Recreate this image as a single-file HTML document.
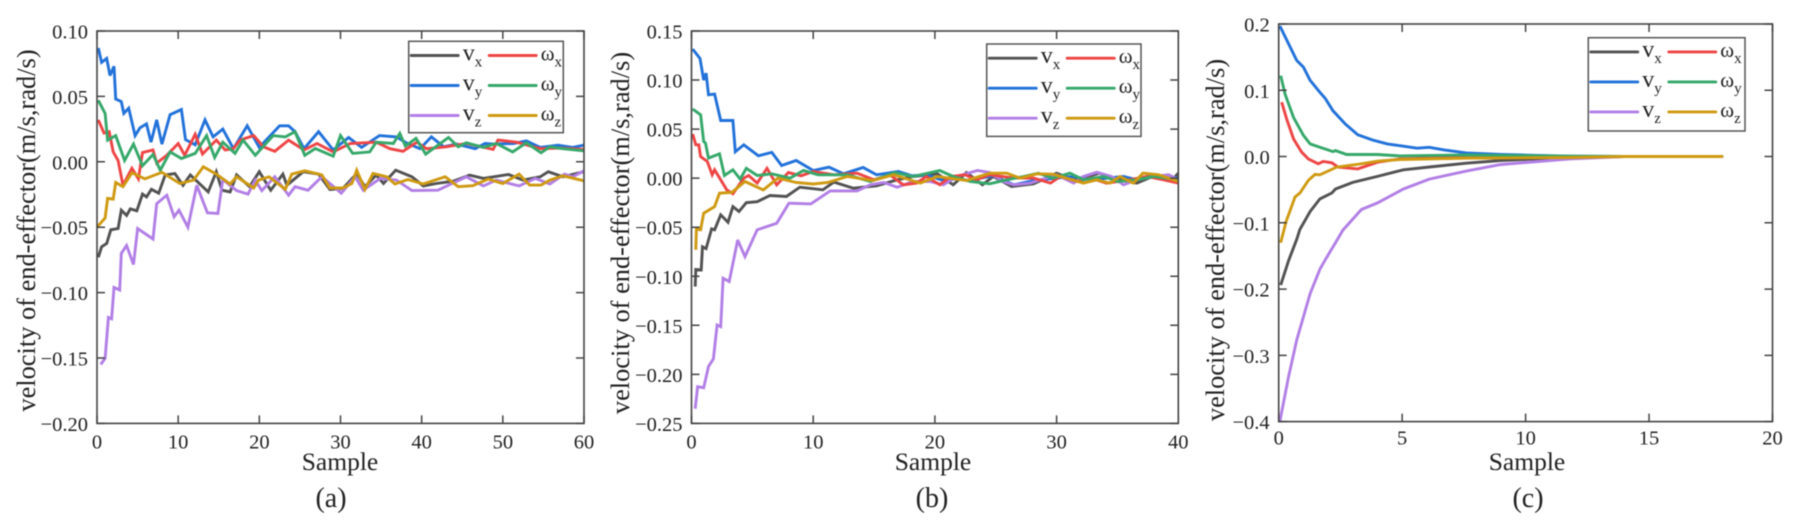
<!DOCTYPE html>
<html lang="en">
<head>
<meta charset="utf-8">
<title>Velocity of end-effector</title>
<style>
html,body{margin:0;padding:0;background:#fff;}
body{width:1796px;height:529px;overflow:hidden;}
svg{display:block;filter:blur(0.4px);font-family:"Liberation Serif","Noto Serif CJK SC",serif;}
</style>
</head>
<body>
<svg id="figure" xmlns="http://www.w3.org/2000/svg" width="1796" height="529" viewBox="0 0 1796 529"></svg>
<script>
// ---- panel (a) ----
const aXTicks=[0,10,20,30,40,50,60];
const aYTicks=[0.10,0.05,0,-0.05,-0.10,-0.15,-0.20];
const aVxSamples=[0.16,0.57,1.2,1.7,2.6,3,3.65,4.1,4.9,5.6,6.1,6.7,7.6,8.4,9.6,10.6,11.5,13.7,14.7,15.4,16.4,17.2,18.8,20,21.4,22.9,23.4,25.4,27.3,28.7,30.3,32,33,34.4,35.3,36.8,38.8,40.2,41.8,43.9,45.9,47.6,50.7,52.5,54.6,55.6,57.4,60];
const aVxValues=[-0.073,-0.065,-0.0625,-0.052,-0.051,-0.037,-0.041,-0.036,-0.0375,-0.0247,-0.0268,-0.021,-0.024,-0.01,-0.009,-0.018,-0.01,-0.023,-0.0076,-0.0217,-0.023,-0.01,-0.019,-0.0076,-0.0217,-0.0094,-0.018,-0.0076,-0.0094,-0.0212,-0.0204,-0.009,-0.019,-0.0102,-0.0166,-0.0064,-0.0115,-0.0184,-0.0166,-0.0148,-0.0102,-0.0127,-0.0097,-0.014,-0.0115,-0.0076,-0.0115,-0.0076];
const aVySamples=[0.16,0.57,1.2,1.6,2.1,2.3,3,3.3,3.9,4.7,5.3,6.1,6.65,7.35,8,9,10.4,10.9,12.1,13.3,14.3,15.5,16.8,18.5,20,22.5,23.6,24.4,25.5,27.3,29.1,31,32.6,34.8,36.9,38.1,39.8,41.2,42.7,44.3,46.6,47.8,48.8,51.3,52.9,54.6,56.8,58.6,60];
const aVyValues=[0.087,0.076,0.079,0.066,0.073,0.048,0.046,0.037,0.041,0.02,0.026,0.029,0.015,0.032,0.0135,0.036,0.04,0.017,0.013,0.032,0.019,0.025,0.01,0.0275,0.011,0.0275,0.0275,0.023,0.01,0.023,0.009,0.0186,0.011,0.02,0.019,0.0145,0.01,0.019,0.0115,0.0135,0.01,0.014,0.0135,0.014,0.016,0.011,0.0127,0.011,0.0127];
const aVzSamples=[0.45,1,1.4,1.8,2.1,2.8,3,3.65,4.5,5,6.9,7.35,8.6,9.5,10.1,11.2,12.3,13.6,14.9,15.5,17.2,18.6,19.5,20.3,21.9,23.6,24.4,26,27.7,28.7,30.1,31.8,32.8,34.9,36.9,38.8,42,45.5,47.6,49.2,52,54,55.8,57.6,58.6,60];
const aVzValues=[-0.155,-0.1503,-0.119,-0.12,-0.096,-0.098,-0.07,-0.064,-0.0785,-0.051,-0.059,-0.032,-0.0255,-0.042,-0.037,-0.05,-0.018,-0.039,-0.0395,-0.0135,-0.022,-0.0247,-0.014,-0.022,-0.0115,-0.0255,-0.019,-0.0217,-0.0115,-0.0166,-0.024,-0.0115,-0.0217,-0.0127,-0.014,-0.022,-0.0217,-0.0115,-0.0184,-0.014,-0.0184,-0.0127,-0.017,-0.0094,-0.0115,-0.0069];
const aWxSamples=[0.16,0.86,1.5,2,2.6,3.2,4.3,5.1,5.6,6.9,7.35,8.6,10,10.8,12.1,13,14.7,15.8,16.8,17.6,19.3,20.5,21.9,23.6,25.5,27.1,29.1,31.2,34.4,36.1,37.7,39.4,40.6,43,45.5,48.8,49.4,51.7,54.6,57,60];
const aWxValues=[0.032,0.022,0.023,0.0076,0.001,-0.018,-0.005,-0.013,0.007,0.009,-0.001,0.005,0.014,0.005,0.021,0.006,0.0166,0.009,0.01,0.0166,0.02,0.0115,0.008,0.0166,0.009,0.014,0.0076,0.014,0.015,0.01,0.008,0.015,0.01,0.0115,0.014,0.0095,0.0166,0.015,0.01,0.0105,0.0095];
const aWySamples=[0.16,1,1.3,2.3,3.4,4.5,5.6,6.9,7.8,9,10.4,12.1,13.5,14.5,15.5,17,18,19.5,21.7,23.2,24.4,25.6,26.9,29.1,30,31.5,33.6,34.4,36.5,37.3,38,39.3,40.5,43.3,44.5,45.5,47.6,49.2,51.2,52.9,54.7,55.8,57.4,60];
const aWyValues=[0.047,0.037,0.0166,0.02,0.001,0.0135,-0.003,0.0056,-0.0064,0.0076,0.0025,0.0064,0.02,0.0033,0.015,0.0064,0.0166,0.005,0.02,0.019,0.023,0.005,0.0102,0.0043,0.02,0.0064,0.0076,0.015,0.014,0.0217,0.012,0.018,0.0059,0.0186,0.0115,0.0145,0.011,0.014,0.0076,0.0145,0.0069,0.0115,0.01,0.0084];
const aWzSamples=[0,1,1.3,2,2.3,3.2,4.3,5.9,8,10.2,11.9,13.1,14.7,16.4,17.2,19.3,19.9,21.2,23.2,24,25.6,27.7,28.7,30.3,31.4,32,33,34,35.7,36.7,38.3,40.2,42.9,44.5,46.3,48.2,50,52,53.3,54.7,55.8,57.4,60];
const aWzValues=[-0.05,-0.043,-0.028,-0.0285,-0.0158,-0.019,-0.0084,-0.013,-0.008,-0.0166,-0.014,-0.0038,-0.0094,-0.017,-0.0115,-0.02,-0.014,-0.0115,-0.021,-0.0094,-0.0069,-0.01,-0.02,-0.02,-0.0166,-0.0064,-0.0212,-0.0089,-0.0115,-0.017,-0.0135,-0.017,-0.0115,-0.019,-0.0183,-0.0132,-0.0166,-0.0094,-0.0178,-0.0178,-0.014,-0.0107,-0.0145];

// ---- panel (b) ----
const bXTicks=[0,10,20,30,40];
const bYTicks=[0.15,0.10,0.05,0,-0.05,-0.10,-0.15,-0.20,-0.25];
const bVxSamples=[0.3,0.35,0.8,0.9,1.2,1.65,1.9,2.4,3,3.4,3.9,4.5,5.4,6.45,7.8,8.9,10.8,11.7,13.3,15.2,16.9,18.2,20.2,21.5,22.6,23.9,24.8,26.3,28.1,30,31.4,32.2,33.5,35.2,36.6,38.2,39.5,40];
const bVxValues=[-0.1105,-0.093,-0.0935,-0.07,-0.0718,-0.0517,-0.0527,-0.0374,-0.045,-0.029,-0.034,-0.025,-0.024,-0.0177,-0.0187,-0.0092,-0.0119,-0.004,-0.0102,-0.0078,-0.0017,0.0017,0.0044,-0.0068,0.0058,-0.0068,0.0017,-0.0085,-0.0058,0.005,-0.0017,0,0.005,-0.0017,-0.005,0.0034,-0.0017,0.005];
const bVySamples=[0.1,0.7,1,1.2,1.4,1.9,2.4,3.4,3.6,4.3,5.5,6.6,7.4,8.6,10,11.3,12.5,14.1,15.2,17,18.1,19.3,20.9,21.8,22.7,24.8,26.5,28.1,30,31.4,32.8,35.5,36.6,38,40];
const bVyValues=[0.1316,0.122,0.1,0.107,0.085,0.0857,0.0588,0.0588,0.027,0.034,0.0228,0.0262,0.0129,0.018,0.0078,0.0112,0.0044,0.0109,0.0034,0.0068,0.0024,0.0034,-0.0034,0,-0.0024,0.0024,-0.0068,-0.0024,0,0.0017,-0.0017,0.0017,-0.0017,0.0034,0];
const bVzSamples=[0.3,0.5,1,1.4,1.8,2.1,2.4,2.6,3.1,3.8,4.4,5.4,7,8,9.8,11.4,13.6,14.7,15.8,16.9,18.2,19.6,20.7,21.8,23.5,24.5,25.6,26.5,27.8,30,31.4,32.2,33.3,34.5,35.5,36.6,38,39.2,40];
const bVzValues=[-0.235,-0.2126,-0.2136,-0.192,-0.1843,-0.1497,-0.1514,-0.102,-0.1054,-0.063,-0.08,-0.0527,-0.046,-0.0255,-0.0262,-0.013,-0.013,-0.0068,-0.0044,-0.0092,-0.0034,-0.0034,-0.0068,0.0017,0.0078,0.0058,-0.0034,-0.0068,-0.0051,0.0034,-0.005,0.0017,0.006,0.0017,-0.0068,-0.0017,0.0017,0.0034,-0.0017];
const bWxSamples=[0.1,0.35,0.6,0.75,1.3,1.7,1.9,2.9,3.4,4.3,4.7,5.4,6.2,7,7.96,9,10,11.7,13.6,15,16.3,17.4,18.5,19.3,20.4,21.3,22.5,23.4,24.5,26.5,28.1,29.5,30.3,31.7,32.8,34.1,36,37.4,38.8,40];
const bWxValues=[0.045,0.034,0.034,0.022,0.017,0.0034,0.0085,-0.012,-0.016,0,0.0027,-0.005,0.01,-0.0068,0.0058,0.0024,0.0068,0.0034,0.005,-0.0017,0.0034,-0.0068,-0.005,0.0017,-0.0068,0.0017,0.0034,-0.0017,0.0034,0,0,-0.005,0.0017,-0.0034,0,-0.005,-0.0017,0.0017,-0.0017,-0.005];
const bWySamples=[0.1,0.75,1,1.15,1.4,2.3,2.7,3.4,4,4.5,5.4,6.6,8.1,9.2,10.4,12.8,14.7,16.7,18.2,20.4,21.5,22.9,24.5,25.9,27.3,28.5,29.7,31.1,32.2,33.9,35,36.6,38,40];
const bWyValues=[0.0704,0.0646,0.0374,0.0357,0.0204,0.0248,0.0027,0.0085,-0.001,0.01,0.0027,0.0044,0,0.0078,0.0034,0.0034,-0.0034,0.0058,0.0017,0.0078,0.0017,-0.0034,-0.0058,-0.0017,0.0017,0.005,0,0.005,-0.0017,0.0017,-0.0034,-0.0017,0.0017,-0.0017];
const bWzSamples=[0.35,0.4,0.75,1,1.9,2.3,3.3,4.4,5.9,7.1,8.6,10,11.2,12.8,14.9,16.6,18.8,20.2,22.6,24.5,25.9,27,28.4,29.7,30.8,32.2,33.3,34.4,35.2,36.3,37.1,38.4,40];
const bWzValues=[-0.073,-0.052,-0.0527,-0.0357,-0.029,-0.0153,-0.0146,-0.0034,-0.012,0,-0.0044,-0.006,-0.0044,0.0017,-0.0024,0.0034,-0.005,0.0017,-0.0024,0.005,0.005,0,0.0044,0.004,0,-0.005,-0.0017,-0.005,0.0017,-0.005,0.005,0.0034,-0.0034];

// ---- panel (c) ----
const cXTicks=[0,5,10,15,20];
const cYTicks=[0.2,0.1,0,-0.1,-0.2,-0.3,-0.4];
const cVxSamples=[0.08,0.4,0.73,0.86,1.27,1.67,2.15,2.3,3,4,5.05,6.3,7.6,9,11.8,14,18];
const cVxValues=[-0.194,-0.157,-0.125,-0.11,-0.083,-0.064,-0.055,-0.049,-0.039,-0.03,-0.02,-0.015,-0.01,-0.006,-0.0015,0,0];
const cVySamples=[0.05,0.4,0.73,1,1.27,1.67,1.88,2.2,2.7,3.2,3.8,4.4,5.05,5.6,6.1,6.7,7.6,9,11.8,14,18];
const cVyValues=[0.197,0.17,0.145,0.135,0.115,0.097,0.088,0.069,0.049,0.033,0.025,0.019,0.0156,0.0126,0.014,0.01,0.0055,0.003,0.0005,0,0];
const cVzSamples=[0.05,0.08,0.4,0.73,1.27,1.67,1.9,2.3,2.6,3.35,4,5.05,6.1,7.6,9,11.8,14,18];
const cVzValues=[-0.4,-0.393,-0.332,-0.277,-0.207,-0.17,-0.155,-0.13,-0.111,-0.08,-0.07,-0.049,-0.034,-0.022,-0.012,-0.0035,0,0];
const cWxSamples=[0.12,0.32,0.6,0.93,1.2,1.6,1.8,2.15,2.4,3.2,4,4.9,7.6,14,18];
const cWxValues=[0.082,0.057,0.0266,0.0065,-0.0035,-0.011,-0.0075,-0.0095,-0.016,-0.0186,-0.0085,-0.0035,-0.001,0,0];
const cWySamples=[0.08,0.26,0.6,1,1.27,1.67,2.2,2.3,2.75,4,4.9,7.6,11.8,14,18];
const cWyValues=[0.122,0.094,0.059,0.032,0.019,0.014,0.0075,0.009,0.003,0.003,0.001,0.0025,0.0005,0,0];
const cWzSamples=[0.08,0.3,0.66,0.86,1.2,1.47,1.67,2.35,3.16,4,4.9,7.6,11.8,14,18];
const cWzValues=[-0.13,-0.098,-0.061,-0.055,-0.036,-0.027,-0.0276,-0.016,-0.012,-0.007,-0.0045,-0.0025,-0.0015,0,0];

const seriesColors=['#525252','#2272da','#b27fe6','#ee4545','#36a86a','#cf9a12'];
const seriesNames=['vx','vy','vz','wx','wy','wz'];
const legendSymbols=['v','v','v','ω','ω','ω'];
const legendSubs=['x','y','z','x','y','z'];

const NS='http://www.w3.org/2000/svg';
const fig=document.getElementById('figure');

function mk(parent,tag,attrs,text){
  const el=document.createElementNS(NS,tag);
  for(const k in attrs){el.setAttribute(k,attrs[k]);}
  if(text!==undefined){el.textContent=text;}
  parent.appendChild(el);
  return el;
}

function drawPanel(p){
  const g=mk(fig,'g',{});
  
  
  const xScale=function(v){return p.left+(v-p.xMin)/(p.xMax-p.xMin)*(p.right-p.left);};
  const yScale=function(v){return p.bottom-(v-p.yMin)/(p.yMax-p.yMin)*(p.bottom-p.top);};

  // series
  const plot=mk(g,'g',{});
  
  
  p.series.forEach(function(s,i){
    const pts=s.samples.map(function(x,j){return xScale(x).toFixed(1)+','+yScale(s.values[j]).toFixed(1);}).join(' ');
    const line=mk(plot,'polyline',{points:pts,fill:'none',stroke:seriesColors[i],'stroke-width':2.9,'stroke-linejoin':'miter','stroke-miterlimit':3});
    
    
  });

  // frame
  const frame=mk(g,'rect',{x:p.left,y:p.top,width:p.right-p.left,height:p.bottom-p.top,fill:'none',stroke:'#444','stroke-width':1.6});
  
  

  // ticks
  const tl=8;
  p.xTicks.forEach(function(t){
    const x=xScale(t);
    const tick=mk(g,'path',{d:'M'+x+' '+p.bottom+'V'+(p.bottom-tl)+'M'+x+' '+p.top+'V'+(p.top+tl),stroke:'#444','stroke-width':1.5,fill:'none'});
    
    
    const lab=mk(g,'text',{x:x,y:p.bottom+p.xLabelGap,'text-anchor':'middle','font-size':20.5,fill:'#222'},String(t));
    
    
  });
  p.yTicks.forEach(function(t){
    const y=yScale(t);
    const tick=mk(g,'path',{d:'M'+p.left+' '+y+'H'+(p.left+tl)+'M'+p.right+' '+y+'H'+(p.right-tl),stroke:'#444','stroke-width':1.5,fill:'none'});
    
    
    const str=(t<0?'\u2212':'')+Math.abs(t).toFixed(p.yDecimals);
    const lab=mk(g,'text',{x:p.left-9,y:y+7.5,'text-anchor':'end','font-size':20.5,fill:'#222'},str);
    
    
  });

  // axis titles
  const yt=mk(g,'text',{transform:'translate('+p.yTitleX+' '+p.yTitleY+') rotate(-90)','text-anchor':'middle','font-size':26.4,fill:'#222'},'velocity of end-effector(m/s,rad/s)');
  
  
  const xt=mk(g,'text',{x:p.xTitleX,y:p.xTitleY,'text-anchor':'middle','font-size':25.5,fill:'#222'},'Sample');
  
  
  const cap=mk(g,'text',{x:p.capX,y:p.capY,'text-anchor':'middle','font-size':28,fill:'#222'},'('+p.id+')');
  
  

  // legend
  const lg=mk(g,'g',{});
  
  
  const L=p.legend;
  const box=mk(lg,'rect',{x:L.x,y:L.y,width:L.w,height:L.h,fill:'#fff',stroke:'#555','stroke-width':1.5});
  
  
  const rows=[L.y+14.2,L.y+44.2,L.y+74.2];
  seriesNames.forEach(function(n,i){
    const col=i<3?0:1;
    const row=rows[i%3];
    const x0=L.x+(col===0?2.5:80.5);
    const sw=mk(lg,'line',{x1:x0,x2:x0+47,y1:row,y2:row,stroke:seriesColors[i],'stroke-width':2.9,'stroke-linecap':'round'});
    
    
    const tx=mk(lg,'text',{x:L.x+(col===0?54:132),y:row+5,'font-size':col===0?24:21,fill:'#222'},legendSymbols[i]);
    
    
    const sub=mk(tx,'tspan',{dy:6,'font-size':15},legendSubs[i]);
    
    
  });
}

drawPanel({id:'a',left:97,right:584,top:31,bottom:423.4,xMin:0,xMax:60,yMin:-0.2,yMax:0.1,yDecimals:2,xLabelGap:25,
  xTicks:aXTicks,yTicks:aYTicks,yTitleX:35,yTitleY:230.5,xTitleX:340,xTitleY:470,capX:331,capY:507,
  legend:{x:408.7,y:41.3,w:154.6,h:91.4},
  series:[{samples:aVxSamples,values:aVxValues},{samples:aVySamples,values:aVyValues},{samples:aVzSamples,values:aVzValues},{samples:aWxSamples,values:aWxValues},{samples:aWySamples,values:aWyValues},{samples:aWzSamples,values:aWzValues}]});
drawPanel({id:'b',left:691.5,right:1178.3,top:31,bottom:423.4,xMin:0,xMax:40,yMin:-0.25,yMax:0.15,yDecimals:2,xLabelGap:25,
  xTicks:bXTicks,yTicks:bYTicks,yTitleX:629,yTitleY:233,xTitleX:933,xTitleY:470,capX:932,capY:507,
  legend:{x:986.7,y:44,w:154.3,h:92.4},
  series:[{samples:bVxSamples,values:bVxValues},{samples:bVySamples,values:bVyValues},{samples:bVzSamples,values:bVzValues},{samples:bWxSamples,values:bWxValues},{samples:bWySamples,values:bWyValues},{samples:bWzSamples,values:bWzValues}]});
drawPanel({id:'c',left:1278.7,right:1772.5,top:24,bottom:421.6,xMin:0,xMax:20,yMin:-0.4,yMax:0.2,yDecimals:1,xLabelGap:23,
  xTicks:cXTicks,yTicks:cYTicks,yTitleX:1224,yTitleY:240,xTitleX:1527,xTitleY:470,capX:1528,capY:507,
  legend:{x:1588.3,y:37.7,w:156.7,h:93.3},
  series:[{samples:cVxSamples,values:cVxValues},{samples:cVySamples,values:cVyValues},{samples:cVzSamples,values:cVzValues},{samples:cWxSamples,values:cWxValues},{samples:cWySamples,values:cWyValues},{samples:cWzSamples,values:cWzValues}]});
</script>
</body>
</html>
